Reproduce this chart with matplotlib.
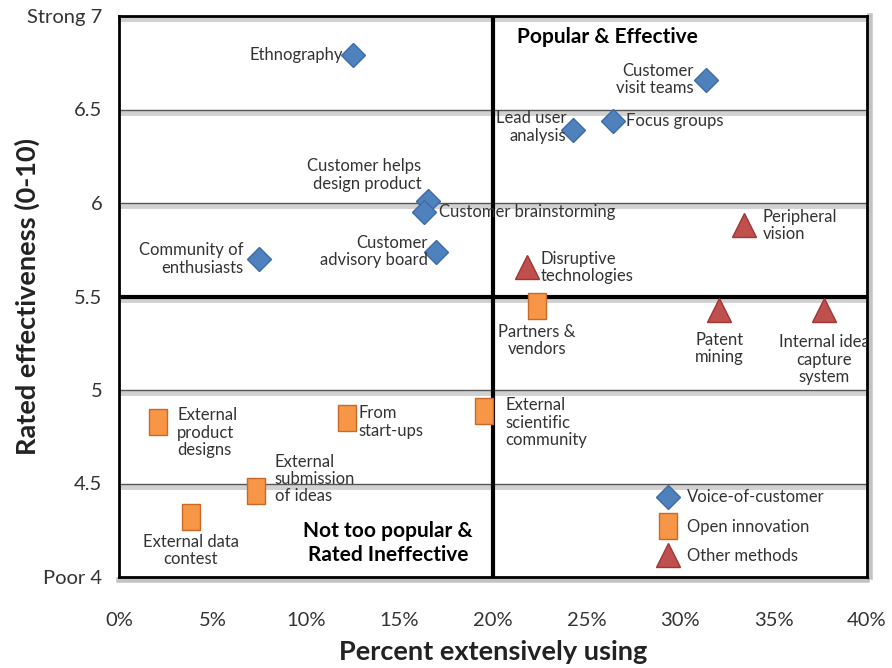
import matplotlib
matplotlib.use("Agg")
import matplotlib.pyplot as plt
import matplotlib.patheffects as pe
from matplotlib.path import Path
from matplotlib.lines import Line2D

plt.rcParams['font.family'] = ['Lato', 'DejaVu Sans']

# voice-of-customer methods
voc_names = ["Ethnography", "Customer\nvisit teams", "Lead user\nanalysis", "Focus groups",
             "Customer helps\ndesign product", "Customer brainstorming",
             "Customer\nadvisory board", "Community of\nenthusiasts"]
voc_x = [12.5, 31.4, 24.3, 26.4, 16.5, 16.3, 16.95, 7.5]
voc_y = [6.79, 6.66, 6.39, 6.44, 6.01, 5.95, 5.74, 5.70]

# open innovation methods
oi_names = ["Partners &\nvendors", "External\nscientific\ncommunity", "External\nproduct\ndesigns",
            "From\nstart-ups", "External\nsubmission\nof ideas", "External data\ncontest"]
oi_x = [22.35, 19.5, 2.1, 12.2, 7.3, 3.85]
oi_y = [5.45, 4.89, 4.83, 4.85, 4.46, 4.32]

# other methods
om_names = ["Peripheral\nvision", "Disruptive\ntechnologies", "Patent\nmining",
            "Internal idea\ncapture\nsystem"]
om_x = [33.4, 21.8, 32.1, 37.7]
om_y = [5.88, 5.66, 5.43, 5.43]

y_ticks = [4, 4.5, 5, 5.5, 6, 6.5, 7]
y_ticklabels = ["Poor 4", "4.5", "5", "5.5", "6", "6.5", "Strong 7"]
x_ticks = [0, 5, 10, 15, 20, 25, 30, 35, 40]
x_ticklabels = ["%d%%" % t for t in x_ticks]

# label offsets in pixels (dx, dy) and alignment, per point
voc_off = [(-10, 0, 'right'), (-13, 0, 'right'), (-7, 3, 'right'), (13, 0, 'left'),
           (-6, 26, 'right'), (15, 0, 'left'), (-8, 0, 'right'), (-16, 0, 'right')]
oi_off = [(0, -35, 'center'), (22, -12, 'left'), (19, -11, 'left'),
          (11, -4, 'left'), (19, 12, 'left'), (0, -33, 'center')]
om_off = [(19, 0, 'left'), (14, -1, 'left'), (0, -39, 'center'), (0, -50, 'center')]

blue, blue_e = "#4F81BD", "#3B6CA6"
orange, orange_e = "#F79646", "#C8692A"
red, red_e = "#C0504D", "#9E3633"

# tall rectangle marker for open innovation
rect = Path([(-0.33, -0.5), (0.33, -0.5), (0.33, 0.5), (-0.33, 0.5), (-0.33, -0.5)],
            [Path.MOVETO, Path.LINETO, Path.LINETO, Path.LINETO, Path.CLOSEPOLY])

fig = plt.figure(figsize=(8.92, 6.68), dpi=100)
ax = fig.add_axes([119 / 892, 1 - 577 / 668, 748 / 892, 561 / 668])
ax.set_xlim(0, 40)
ax.set_ylim(4, 7)

shadow = [pe.SimpleLineShadow(offset=(0, -2.2), shadow_color='#999999', alpha=0.45, linewidth=3.5),
          pe.Normal()]
for yv in [4.5, 5, 6, 6.5, 7]:
    ax.axhline(yv, color='#555555', lw=1.0, zorder=1, path_effects=shadow)
ax.axhline(5.5, color='black', lw=3.0, zorder=2, path_effects=shadow)
ax.axvline(20, color='black', lw=3.0, zorder=2)

for s in ax.spines.values():
    s.set_linewidth(2.0)
    s.set_color('black')
ax.spines['bottom'].set_path_effects([pe.SimpleLineShadow(offset=(0, -2.5), shadow_color='#888888',
                                                          alpha=0.5, linewidth=4), pe.Normal()])
ax.spines['right'].set_path_effects([pe.SimpleLineShadow(offset=(2.5, 0), shadow_color='#888888',
                                                         alpha=0.5, linewidth=4), pe.Normal()])

ax.plot(voc_x, voc_y, ls='none', marker='D', ms=12, mfc=blue, mec=blue_e, mew=1, zorder=5)
ax.plot(oi_x, oi_y, ls='none', marker=rect, ms=19, mfc=orange, mec=orange_e, mew=1, zorder=5)
ax.plot(om_x, om_y, ls='none', marker='^', ms=17, mfc=red, mec=red_e, mew=1, zorder=5)

lab_kw = dict(fontsize=12, color='#333333', textcoords='offset pixels', va='center',
              zorder=6, clip_on=True, linespacing=1.1)
for names, xs, ys, offs in [(voc_names, voc_x, voc_y, voc_off),
                            (oi_names, oi_x, oi_y, oi_off),
                            (om_names, om_x, om_y, om_off)]:
    for n, x, y, (dx, dy, ha) in zip(names, xs, ys, offs):
        ax.annotate(n, (x, y), xytext=(dx, dy), ha=ha, multialignment=ha, **lab_kw)

ax.text(21.3, 6.89, "Popular & Effective", fontsize=15, fontweight='bold', ha='left', va='center')
ax.text(14.4, 4.18, "Not too popular &\nRated Ineffective", fontsize=15, fontweight='bold',
        ha='center', va='center', linespacing=1.25)

ax.set_xticks(x_ticks)
ax.set_xticklabels(x_ticklabels)
ax.set_yticks(y_ticks)
ax.set_yticklabels(y_ticklabels)
ax.tick_params(axis='both', length=0, labelsize=14.5, colors='#333333')
ax.tick_params(axis='x', pad=25)
ax.tick_params(axis='y', pad=12)
ax.set_xlabel("Percent extensively using", fontsize=19.5, fontweight='bold', labelpad=8, color='#222222')
ax.set_ylabel("Rated effectiveness (0-10)", fontsize=19.5, fontweight='bold', color='#222222')
ax.yaxis.set_label_coords(-0.106, 0.5)

handles = [Line2D([], [], ls='none', marker='D', ms=12, mfc=blue, mec=blue_e, label="Voice-of-customer"),
           Line2D([], [], ls='none', marker=rect, ms=19, mfc=orange, mec=orange_e, label="Open innovation"),
           Line2D([], [], ls='none', marker='^', ms=17, mfc=red, mec=red_e, label="Other methods")]
leg = ax.legend(handles=handles, loc='upper left', bbox_to_anchor=(0.7055, 0.171), frameon=False,
                fontsize=12, labelspacing=0.8, handletextpad=0.4, borderpad=0, handlelength=1.5)
for t in leg.get_texts():
    t.set_color('#333333')

fig.savefig("out.png", dpi=100)
